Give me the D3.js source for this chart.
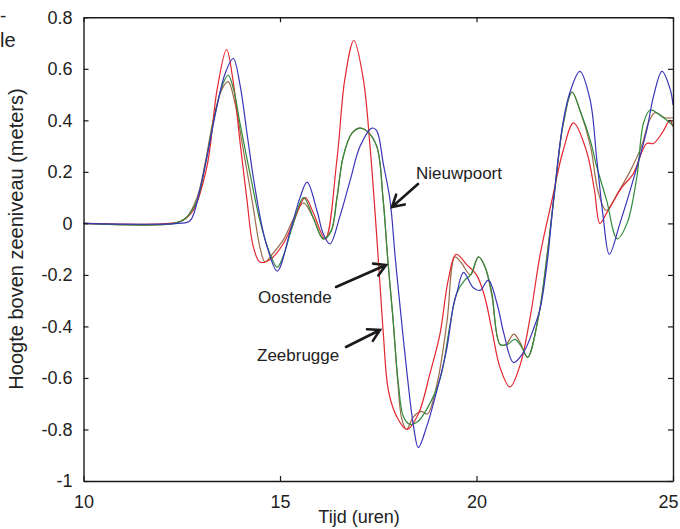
<!DOCTYPE html>
<html>
<head>
<meta charset="utf-8">
<script src="https://cdn.jsdelivr.net/npm/d3@7"></script>
<style>
  html, body { margin: 0; padding: 0; background: #fff; }
  svg { display: block; font-family: "Liberation Sans", Arial, sans-serif; }
</style>
</head>
<body>
<svg id="chart" width="680" height="529"></svg>
<script>
// Water level (m) against time (hours) for three coastal stations plus a fourth run.
const xTicks = [10, 15, 20, 25];
const yTicks = [0.8, 0.6, 0.4, 0.2, 0, -0.2, -0.4, -0.6, -0.8, -1];

const zeebrugge = [
  [10,0],[12.2,0],[12.5,0.01],[12.79,0.05],[13.14,0.22],[13.4,0.52],[13.64,0.675],[13.8,0.56],
  [13.98,0.32],[14.16,0.09],[14.32,-0.09],[14.49,-0.15],[14.75,-0.14],[15.08,-0.08],[15.33,0.0],
  [15.64,0.10],[15.85,0.04],[16.15,-0.06],[16.45,0.25],[16.65,0.56],[16.88,0.71],[17.12,0.56],
  [17.29,0.30],[17.42,0.04],[17.55,-0.25],[17.63,-0.43],[17.76,-0.65],[17.97,-0.75],[18.23,-0.80],
  [18.52,-0.74],[18.82,-0.58],[19.07,-0.43],[19.28,-0.22],[19.48,-0.12],[19.75,-0.16],[20.0,-0.2],
  [20.2,-0.28],[20.4,-0.42],[20.6,-0.56],[20.85,-0.635],[21.11,-0.55],[21.37,-0.36],[21.62,-0.12],
  [21.92,0.09],[22.2,0.28],[22.47,0.39],[22.8,0.28],[23.0,0.13],[23.14,0.0],[23.31,0.04],
  [23.7,0.14],[23.98,0.19],[24.33,0.31],[24.5,0.31],[24.72,0.35],[24.92,0.40],[25,0.375]
];

const oostende = [
  [10,0],[12.3,0],[12.6,0.02],[12.89,0.09],[13.09,0.22],[13.3,0.39],[13.52,0.53],[13.68,0.575],
  [13.82,0.52],[13.98,0.39],[14.24,0.19],[14.49,0.01],[14.75,-0.12],[14.93,-0.17],[15.1,-0.12],
  [15.3,-0.02],[15.6,0.10],[15.85,0.02],[16.1,-0.06],[16.3,-0.03],[16.45,0.10],[16.61,0.26],
  [16.83,0.35],[17.04,0.37],[17.2,0.36],[17.46,0.30],[17.62,0.10],[17.75,-0.155],[17.87,-0.36],
  [18.01,-0.62],[18.14,-0.75],[18.3,-0.78],[18.5,-0.77],[18.74,-0.72],[19.08,-0.60],[19.33,-0.39],
  [19.5,-0.27],[19.7,-0.22],[19.85,-0.2],[20.05,-0.13],[20.22,-0.17],[20.39,-0.27],[20.6,-0.47],
  [20.78,-0.47],[20.98,-0.45],[21.15,-0.48],[21.3,-0.52],[21.58,-0.36],[21.8,-0.12],[22.0,0.14],
  [22.2,0.38],[22.43,0.51],[22.63,0.44],[22.9,0.32],[23.06,0.22],[23.31,0.09],[23.58,-0.06],
  [23.83,0.0],[24.08,0.18],[24.25,0.39],[24.42,0.44],[24.67,0.42],[25,0.38]
];

const nieuwpoort = [
  [10,0],[12.4,0],[12.71,0.01],[12.96,0.13],[13.17,0.28],[13.39,0.45],[13.6,0.58],[13.81,0.64],
  [13.98,0.54],[14.16,0.35],[14.33,0.17],[14.54,-0.01],[14.67,-0.09],[14.93,-0.185],[15.26,-0.03],
  [15.51,0.10],[15.69,0.16],[15.94,0.05],[16.1,-0.04],[16.27,-0.08],[16.53,0.03],[16.79,0.17],
  [17.04,0.30],[17.34,0.37],[17.46,0.36],[17.63,0.23],[17.8,0.09],[17.93,-0.13],[18.06,-0.33],
  [18.23,-0.58],[18.4,-0.79],[18.52,-0.87],[18.73,-0.79],[18.99,-0.65],[19.24,-0.49],[19.41,-0.32],
  [19.5,-0.27],[19.67,-0.19],[19.92,-0.25],[20.09,-0.26],[20.3,-0.22],[20.52,-0.31],[20.7,-0.43],
  [20.94,-0.54],[21.2,-0.50],[21.45,-0.41],[21.62,-0.33],[21.8,-0.15],[21.96,0.09],[22.2,0.39],
  [22.38,0.51],[22.63,0.59],[22.89,0.48],[23.06,0.25],[23.22,0.03],[23.38,-0.12],[23.65,0.0],
  [23.99,0.17],[24.33,0.36],[24.5,0.49],[24.72,0.59],[24.93,0.52],[25,0.46]
];

const vierdeReeks = [
  [10,0],[12.3,0],[12.6,0.02],[12.89,0.10],[13.09,0.23],[13.3,0.40],[13.52,0.52],[13.68,0.55],
  [13.85,0.47],[14.05,0.30],[14.3,0.08],[14.5,-0.10],[14.62,-0.15],[14.8,-0.12],[15.1,-0.06],
  [15.35,0.02],[15.6,0.08],[15.85,0.02],[16.1,-0.06],[16.3,-0.03],[16.45,0.10],[16.61,0.26],
  [16.83,0.35],[17.0,0.37],[17.2,0.36],[17.46,0.30],[17.62,0.10],[17.75,-0.155],[17.87,-0.36],
  [18.0,-0.62],[18.1,-0.76],[18.22,-0.80],[18.4,-0.75],[18.6,-0.73],[18.75,-0.74],[19.0,-0.62],
  [19.25,-0.38],[19.45,-0.13],[19.6,-0.15],[19.85,-0.2],[20.05,-0.13],[20.22,-0.17],[20.39,-0.28],
  [20.6,-0.47],[20.75,-0.47],[20.95,-0.43],[21.1,-0.46],[21.3,-0.52],[21.58,-0.36],[21.8,-0.12],
  [22.0,0.14],[22.2,0.38],[22.43,0.51],[22.63,0.44],[22.9,0.30],[23.1,0.12],[23.3,0.05],
  [23.6,0.12],[23.9,0.20],[24.2,0.30],[24.4,0.40],[24.55,0.43],[24.8,0.41],[25,0.41]
];

const series = [
  { name: "vierde", data: vierdeReeks, color: "#9a6b4a" },
  { name: "Zeebrugge", data: zeebrugge, color: "#e3262f" },
  { name: "Oostende", data: oostende, color: "#2f8a3c" },
  { name: "Nieuwpoort", data: nieuwpoort, color: "#3b35b8" }
];

// Station labels with arrows
const labels = [
  { text: "Nieuwpoort", tx: 416, ty: 179, from: [418, 184], to: [392, 207] },
  { text: "Oostende",   tx: 258, ty: 303, from: [336, 287], to: [386, 265] },
  { text: "Zeebrugge",  tx: 257, ty: 361, from: [346, 347], to: [380, 330] }
];

const svg = d3.select("#chart");
const plotLeft = 83.5, plotRight = 673, plotTop = 17.3, plotBottom = 481;

const x = d3.scaleLinear().domain([10, 25]).range([plotLeft, plotRight]);
const y = d3.scaleLinear().domain([-1, 0.8]).range([plotBottom, plotTop]);

const fmt = d => (d === 0 ? "0" : String(d));

// curves
const line = d3.line()
  .x(d => x(d[0]))
  .y(d => y(d[1]))
  .curve(d3.curveCatmullRom.alpha(0.5));

const plot = svg.append("g");
series.forEach(s => {
  plot.append("path")
    .attr("d", line(s.data))
    .attr("fill", "none")
    .attr("stroke", s.color)
    .attr("stroke-width", 1.2);
});

// frame and inward ticks
const axisColor = "#1a1a1a";
const tickLen = 5;

const gBottom = svg.append("g").attr("transform", `translate(0,${plotBottom})`)
  .call(d3.axisBottom(x).tickValues(xTicks).tickSizeInner(-tickLen).tickSizeOuter(0).tickPadding(11).tickFormat(fmt));
const gTop = svg.append("g").attr("transform", `translate(0,${plotTop})`)
  .call(d3.axisTop(x).tickValues(xTicks).tickSizeInner(-tickLen).tickSizeOuter(0).tickFormat(""));
const gLeft = svg.append("g").attr("transform", `translate(${plotLeft},0)`)
  .call(d3.axisLeft(y).tickValues(yTicks).tickSizeInner(-tickLen).tickSizeOuter(0).tickPadding(11).tickFormat(fmt));
const gRight = svg.append("g").attr("transform", `translate(${plotRight},0)`)
  .call(d3.axisRight(y).tickValues(yTicks).tickSizeInner(-tickLen).tickSizeOuter(0).tickFormat(""));

[gBottom, gTop, gLeft, gRight].forEach(g => {
  g.select(".domain").attr("stroke", axisColor).attr("stroke-width", 1.4);
  g.selectAll(".tick line").attr("stroke", axisColor).attr("stroke-width", 1.2);
  g.selectAll(".tick text").attr("fill", "#222").style("font-size", "18px")
    .style("font-family", "'Liberation Sans', Arial, sans-serif");
});
gBottom.selectAll(".tick text").attr("dy", "0.9em");
// keep the last hour label inside the page edge
gBottom.selectAll(".tick text").filter(d => d === 25).attr("dx", -5);

// axis titles
svg.append("text")
  .attr("x", 359)
  .attr("y", 523)
  .attr("text-anchor", "middle")
  .attr("fill", "#222")
  .style("font-size", "18px")
  .text("Tijd (uren)");

svg.append("text")
  .attr("transform", "translate(23,239) rotate(-90)")
  .attr("text-anchor", "middle")
  .attr("fill", "#222")
  .style("font-size", "20px")
  .text("Hoogte boven zeeniveau (meters)");

// station annotations
const headLen = 13, headAngle = Math.PI / 6;
labels.forEach(l => {
  svg.append("text")
    .attr("x", l.tx).attr("y", l.ty)
    .attr("fill", "#222")
    .style("font-size", "17px")
    .text(l.text);
  const [x0, y0] = l.from, [x1, y1] = l.to;
  const ang = Math.atan2(y0 - y1, x0 - x1);
  const a1 = [x1 + headLen * Math.cos(ang - headAngle), y1 + headLen * Math.sin(ang - headAngle)];
  const a2 = [x1 + headLen * Math.cos(ang + headAngle), y1 + headLen * Math.sin(ang + headAngle)];
  svg.append("path")
    .attr("d", `M${x0},${y0}L${x1},${y1}M${a1[0]},${a1[1]}L${x1},${y1}L${a2[0]},${a2[1]}`)
    .attr("fill", "none")
    .attr("stroke", "#1a1a1a")
    .attr("stroke-width", 2.6)
    .attr("stroke-linecap", "round")
    .attr("stroke-linejoin", "miter");
});

// caption text in the left margin
svg.append("text").attr("x", 0).attr("y", 22)
  .attr("fill", "#222").style("font-size", "19px").text("-");
svg.append("text").attr("x", 0).attr("y", 47)
  .attr("fill", "#222").style("font-size", "20px").text("le");
</script>
</body>
</html>
